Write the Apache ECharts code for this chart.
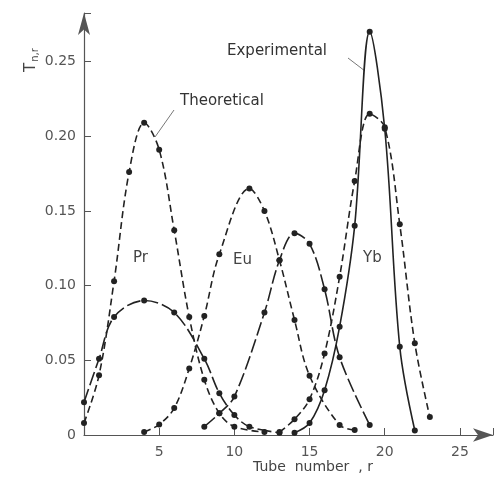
<!DOCTYPE html>
<html>
<head>
<meta charset="utf-8">
<script src="https://cdn.jsdelivr.net/npm/echarts@6/dist/echarts.min.js"></script>
<style>
  html, body { margin: 0; padding: 0; background: #fff; }
  #chart { width: 496px; height: 478px; }
</style>
</head>
<body>
<div id="chart"></div>
<script>
// [tube number, T]
let prTheo = [[0,0.008],[1,0.040],[2,0.103],[3,0.176],[4,0.209],[5,0.191],[6,0.137],[7,0.079],[8,0.037],[9,0.0145],[10,0.0056],[12,0.002]];
let prExp = [[0,0.022],[1,0.051],[2,0.079],[4,0.090],[6,0.082],[8,0.051],[9,0.028],[10,0.0134],[11,0.0056],[13,0.0015]];
let euTheo = [[4,0.002],[5,0.007],[6,0.018],[7,0.0446],[8,0.0797],[9,0.121],[11,0.165],[12,0.150],[13,0.117],[14,0.077],[15,0.0397],[17,0.0067],[18,0.0033]];
let euExp = [[8,0.0056],[9,0.0145],[10,0.0257],[12,0.082],[13,0.117],[14,0.135],[15,0.128],[16,0.0975],[17,0.052],[19,0.0067]];
let ybTheo = [[13,0.002],[14,0.0105],[15,0.024],[16,0.0546],[17,0.106],[18,0.170],[19,0.215],[20,0.206],[21,0.141],[22,0.0614],[23,0.012]];
let ybExp = [[14,0.0015],[15,0.008],[16,0.030],[17,0.0725],[18,0.140],[19,0.270],[20,0.205],[21,0.059],[22,0.003]];

let yTicks = ['0', '0.05', '0.10', '0.15', '0.20', '0.25'];

let ink = '#222';
let axisGrey = '#555';

function curve(name, data, dash) {
	return {
		name: name,
		type: 'line',
		data: data,
		smooth: 0.35,
		symbol: 'circle',
		symbolSize: 6,
		itemStyle: { color: ink },
		lineStyle: { color: ink, width: 1.6, type: dash },
		z: 3
	};
}

let myChart = echarts.init(document.getElementById('chart'));

let opt = {
	animation: false,
	grid: { left: 84, right: 2, top: 13, bottom: 43 },
	xAxis: {
		type: 'value',
		min: 0,
		max: 27.2,
		interval: 5,
		axisLine: { lineStyle: { color: axisGrey, width: 1.2 }, symbol: ['none', 'arrow'], symbolSize: [10, 20] },
		axisTick: { inside: true, length: 7, lineStyle: { color: axisGrey } },
		axisLabel: {
			color: '#555', fontSize: 14, fontFamily: 'DejaVu Sans', margin: 10,
			formatter: function (v) { return v === 0 || v > 25 ? '' : String(v); }
		},
		splitLine: { show: false }
	},
	yAxis: {
		type: 'value',
		min: 0,
		max: 0.2825,
		interval: 0.05,
		axisLine: { show: true, lineStyle: { color: axisGrey, width: 1.2 }, symbol: ['none', 'arrow'], symbolSize: [9, 22] },
		axisTick: { show: true, inside: true, length: 7, lineStyle: { color: axisGrey } },
		axisLabel: {
			color: '#555', fontSize: 14, fontFamily: 'DejaVu Sans', margin: 8,
			formatter: function (v) { return yTicks[Math.round(v / 0.05)] || ''; }
		},
		splitLine: { show: false }
	},
	series: [
		curve('Pr theoretical', prTheo, [7, 4]),
		curve('Pr experimental', prExp, [14, 4]),
		curve('Eu theoretical', euTheo, [7, 4]),
		curve('Eu experimental', euExp, [14, 4]),
		curve('Yb theoretical', ybTheo, [7, 4]),
		curve('Yb experimental', ybExp, 'solid')
	],
	graphic: [
		{ type: 'text', left: 227, top: 44, style: { text: 'Experimental', fill: '#333', font: '15px "DejaVu Sans"' } },
		{ type: 'line', shape: { x1: 348, y1: 58, x2: 365, y2: 71 }, style: { stroke: '#777', lineWidth: 1 } },
		{ type: 'text', left: 180, top: 94, style: { text: 'Theoretical', fill: '#333', font: '15px "DejaVu Sans"' } },
		{ type: 'line', shape: { x1: 174, y1: 110, x2: 155, y2: 137 }, style: { stroke: '#777', lineWidth: 1 } },
		{ type: 'text', left: 133, top: 251, style: { text: 'Pr', fill: '#444', font: '15px "DejaVu Sans"' } },
		{ type: 'text', left: 233, top: 253, style: { text: 'Eu', fill: '#444', font: '15px "DejaVu Sans"' } },
		{ type: 'text', left: 363, top: 251, style: { text: 'Yb', fill: '#444', font: '15px "DejaVu Sans"' } },
		{ type: 'text', left: 253, top: 460, style: { text: 'Tube  number  , r', fill: '#444', font: '14px "DejaVu Sans"' } },
		{
			type: 'text', x: 22, y: 72, rotation: Math.PI / 2,
			style: {
				text: '{a|T}{b|n,r}',
				fill: '#444',
				rich: {
					a: { fontSize: 15, fontFamily: 'DejaVu Sans', fill: '#444' },
					b: { fontSize: 10, fontFamily: 'DejaVu Sans', fill: '#444', padding: [8, 0, 0, 1] }
				}
			}
		}
	]
};
myChart.setOption(opt);
</script>
</body>
</html>
